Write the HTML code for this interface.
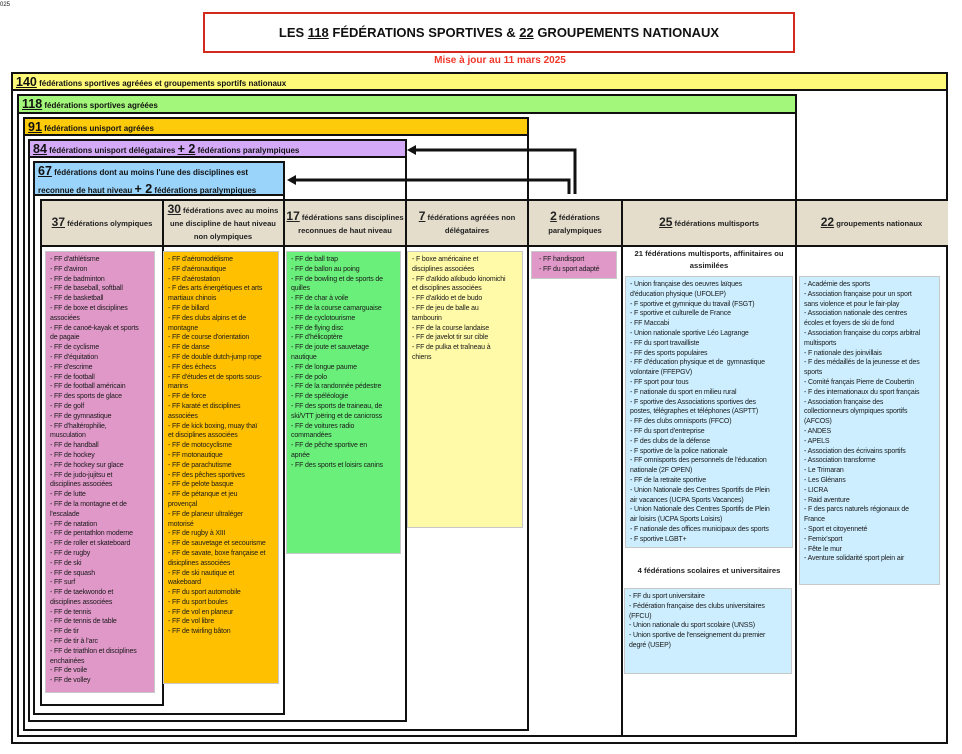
<!DOCTYPE html>
<html><head><meta charset="utf-8"><style>
*{margin:0;padding:0;box-sizing:border-box}
body{width:962px;height:754px;position:relative;background:#fff;font-family:"Liberation Sans",sans-serif;color:#111;overflow:hidden}
.a{position:absolute}
.bx{position:absolute;border:2px solid #111}
.bar{position:absolute;border:2px solid #111;font-size:8px;font-weight:bold;white-space:nowrap;padding-left:3px;line-height:17px}
.n{font-size:12.5px;text-decoration:underline;font-weight:bold}
.hd{position:absolute;font-size:7.6px;font-weight:bold;text-align:center;line-height:13px;white-space:nowrap;color:#222}
.hd .n{font-size:12px}
.l{position:absolute;border:1px solid #c8c8c8;font-size:7px;line-height:9.8px;white-space:nowrap;padding:3px 4px;color:#1a1a1a;letter-spacing:-0.15px}
.v{position:absolute;background:#111;width:2px}
.h{position:absolute;background:#111;height:2px}
</style></head><body>
<div class="a" style="left:0;top:2px;font-size:6px">025</div>
<div class="a" style="left:203px;top:12px;width:592px;height:41px;border:2px solid #d42a1e;text-align:center;font-size:13px;font-weight:bold;line-height:38px;color:#111">LES <u>118</u> FÉDÉRATIONS SPORTIVES &amp; <u>22</u> GROUPEMENTS NATIONAUX</div>
<div class="a" style="left:400px;top:55px;width:200px;text-align:center;font-size:10px;font-weight:bold;color:#f0372a">Mise à jour au 11 mars 2025</div>

<!-- nested boxes -->
<div class="bx" style="left:11px;top:72px;width:937px;height:672px"></div>
<div class="bar" style="left:11px;top:72px;width:937px;height:19px;background:#fff97a"><span class="n">140</span> fédérations sportives agréées et groupements sportifs nationaux</div>
<div class="bx" style="left:17px;top:94px;width:780px;height:643px"></div>
<div class="bar" style="left:17px;top:94px;width:780px;height:20px;background:#a3f77a"><span class="n">118</span> fédérations sportives agréées</div>
<div class="bx" style="left:23px;top:117px;width:506px;height:614px"></div>
<div class="bar" style="left:23px;top:117px;width:506px;height:19px;background:#fecb0a"><span class="n">91</span> fédérations unisport agréées</div>
<div class="bx" style="left:28px;top:139px;width:379px;height:583px"></div>
<div class="bar" style="left:28px;top:139px;width:379px;height:19px;background:#d4aaf8"><span class="n">84</span> fédérations unisport délégataires <span class="n">+ 2</span> fédérations paralympiques</div>
<div class="bx" style="left:33px;top:161px;width:252px;height:554px"></div>
<div class="bar" style="left:33px;top:161px;width:252px;height:35px;background:#9ad4fb;line-height:17px">
<span class="n">67</span> fédérations dont au moins l'une des disciplines est<br>reconnue de haut niveau <span class="n">+ 2</span> fédérations paralympiques</div>

<!-- header row -->
<div class="a" style="left:40px;top:199px;width:908px;height:48px;background:#e4ddcc;border-top:2px solid #111;border-bottom:2px solid #111"></div>
<div class="bx" style="left:40px;top:199px;width:124px;height:507px"></div>
<div class="v" style="left:283px;top:199px;height:516px"></div>
<div class="v" style="left:405px;top:199px;height:523px"></div>
<div class="v" style="left:527px;top:199px;height:532px"></div>
<div class="v" style="left:621px;top:199px;height:538px"></div>
<div class="v" style="left:795px;top:199px;height:538px"></div>

<div class="hd" style="left:40px;top:216px;width:124px"><span class="n">37</span> fédérations olympiques</div>
<div class="hd" style="left:162px;top:203px;width:122px"><span class="n">30</span> fédérations avec au moins<br>une discipline de haut niveau<br>non olympiques</div>
<div class="hd" style="left:284px;top:210px;width:122px"><span class="n">17</span> fédérations sans disciplines<br>reconnues de haut niveau</div>
<div class="hd" style="left:406px;top:210px;width:122px"><span class="n">7</span> fédérations agréées non<br>délégataires</div>
<div class="hd" style="left:528px;top:210px;width:94px"><span class="n">2</span> fédérations<br>paralympiques</div>
<div class="hd" style="left:622px;top:216px;width:174px"><span class="n">25</span> fédérations multisports</div>
<div class="hd" style="left:796px;top:216px;width:151px"><span class="n">22</span> groupements nationaux</div>

<!-- arrows -->
<svg class="a" style="left:0;top:0" width="962" height="754">
<polyline points="575,194 575,150 414,150" fill="none" stroke="#111" stroke-width="3"/>
<polygon points="407,150 416,145 416,155" fill="#111"/>
<polyline points="569,194 569,180 294,180" fill="none" stroke="#111" stroke-width="3"/>
<polygon points="287,180 296,175 296,185" fill="#111"/>
</svg>

<div class="l" style="left:45px;top:251px;width:110px;height:442px;background:#df98c8">- FF d'athlétisme<br>- FF d'aviron<br>- FF de badminton<br>- FF de baseball, softball<br>- FF de basketball<br>- FF de boxe et disciplines<br>associées<br>- FF de canoë-kayak et sports<br>de pagaie<br>- FF de cyclisme<br>- FF d'équitation<br>- FF d'escrime<br>- FF de football<br>- FF de football américain<br>- FF des sports de glace<br>- FF de golf<br>- FF de gymnastique<br>- FF d'haltérophilie,<br>musculation<br>- FF de handball<br>- FF de hockey<br>- FF de hockey sur glace<br>- FF de judo-jujitsu et<br>disciplines associées<br>- FF de lutte<br>- FF de la montagne et de<br>l'escalade<br>- FF de natation<br>- FF de pentathlon moderne<br>- FF de roller et skateboard<br>- FF de rugby<br>- FF de ski<br>- FF de squash<br>- FF surf<br>- FF de taekwondo et<br>disciplines associées<br>- FF de tennis<br>- FF de tennis de table<br>- FF de tir<br>- FF de tir à l'arc<br>- FF de triathlon et disciplines<br>enchainées<br>- FF de voile<br>- FF de volley</div>

<div class="l" style="left:163px;top:251px;width:116px;height:433px;background:#ffc000">- FF d'aéromodélisme<br>- FF d'aéronautique<br>- FF d'aérostation<br>- F des arts énergétiques et arts<br>martiaux chinois<br>- FF de billard<br>- FF des clubs alpins et de<br>montagne<br>- FF de course d'orientation<br>- FF de danse<br>- FF de double dutch-jump rope<br>- FF des échecs<br>- FF d'études et de sports sous-<br>marins<br>- FF de force<br>- FF karaté et disciplines<br>associées<br>- FF de kick boxing, muay thaï<br>et disciplines associées<br>- FF de motocyclisme<br>- FF motonautique<br>- FF de parachutisme<br>- FF des pêches sportives<br>- FF de pelote basque<br>- FF de pétanque et jeu<br>provençal<br>- FF de planeur ultraléger<br>motorisé<br>- FF de rugby à XIII<br>- FF de sauvetage et secourisme<br>- FF de savate, boxe française et<br>disicplines associées<br>- FF de ski nautique et<br>wakeboard<br>- FF du sport automobile<br>- FF du sport boules<br>- FF de vol en planeur<br>- FF de vol libre<br>- FF de twirling bâton</div>

<div class="l" style="left:286px;top:251px;width:115px;height:303px;background:#6af07a">- FF de ball trap<br>- FF de ballon au poing<br>- FF de bowling et de sports de<br>quilles<br>- FF de char à voile<br>- FF de la course camarguaise<br>- FF de cyclotourisme<br>- FF de flying disc<br>- FF d'hélicoptère<br>- FF de joute et sauvetage<br>nautique<br>- FF de longue paume<br>- FF de polo<br>- FF de la randonnée pédestre<br>- FF de spéléologie<br>- FF des sports de traineau, de<br>ski/VTT joëring et de canicross<br>- FF de voitures radio<br>commandées<br>- FF de pêche sportive en<br>apnée<br>- FF des sports et loisirs canins</div>

<div class="l" style="left:407px;top:251px;width:116px;height:277px;background:#fffaa8">- F boxe américaine et<br>disciplines associées<br>- FF d'aïkido aïkibudo kinomichi<br>et disciplines associées<br>- FF d'aïkido et de budo<br>- FF de jeu de balle au<br>tambourin<br>- FF de la course landaise<br>- FF de javelot tir sur cible<br>- FF de pulka et traîneau à<br>chiens</div>

<div class="l" style="left:531px;top:251px;width:86px;height:28px;background:#df98c8;padding-left:7px">- FF handisport<br>- FF du sport adapté</div>

<div class="hd" style="left:622px;top:248px;width:174px;line-height:12px">21 fédérations multisports, affinitaires ou<br>assimilées</div>
<div class="l" style="left:625px;top:276px;width:168px;height:272px;background:#cceeff">- Union française des oeuvres laïques<br>d'éducation physique (UFOLEP)<br>- F sportive et gymnique du travail (FSGT)<br>- F sportive et culturelle de France<br>- FF Maccabi<br>- Union nationale sportive Léo Lagrange<br>- FF du sport travailliste<br>- FF des sports populaires<br>- FF d'éducation physique et de&nbsp; gymnastique<br>volontaire (FFEPGV)<br>- FF sport pour tous<br>- F nationale du sport en milieu rural<br>- F sportive des Associations sportives des<br>postes, télégraphes et téléphones (ASPTT)<br>- FF des clubs omnisports (FFCO)<br>- FF du sport d'entreprise<br>- F des clubs de la défense<br>- F sportive de la police nationale<br>- FF omnisports des personnels de l'éducation<br>nationale (2F OPEN)<br>- FF de la retraite sportive<br>- Union Nationale des Centres Sportifs de Plein<br>air vacances (UCPA Sports Vacances)<br>- Union Nationale des Centres Sportifs de Plein<br>air loisirs (UCPA Sports Loisirs)<br>- F nationale des offices municipaux des sports<br>- F sportive LGBT+</div>

<div class="hd" style="left:622px;top:564px;width:174px">4 fédérations scolaires et universitaires</div>
<div class="l" style="left:624px;top:588px;width:168px;height:86px;background:#cceeff">- FF du sport universitaire<br>- Fédération française des clubs universitaires<br>(FFCU)<br>- Union nationale du sport scolaire (UNSS)<br>- Union sportive de l'enseignement du premier<br>degré (USEP)</div>

<div class="l" style="left:799px;top:276px;width:141px;height:309px;background:#cceeff">- Académie des sports<br>- Association française pour un sport<br>sans violence et pour le fair-play<br>- Association nationale des centres<br>écoles et foyers de ski de fond<br>- Association française du corps arbitral<br>multisports<br>- F nationale des joinvillais<br>- F des médaillés de la jeunesse et des<br>sports<br>- Comité français Pierre de Coubertin<br>- F des internationaux du sport français<br>- Association française des<br>collectionneurs olympiques sportifs<br>(AFCOS)<br>- ANDES<br>- APELS<br>- Association des écrivains sportifs<br>- Association transforme<br>- Le Trimaran<br>- Les Glénans<br>- LICRA<br>- Raid aventure<br>- F des parcs naturels régionaux de<br>France<br>- Sport et citoyenneté<br>- Femix'sport<br>- Fête le mur<br>- Aventure solidarité sport plein air</div>
</body></html>
